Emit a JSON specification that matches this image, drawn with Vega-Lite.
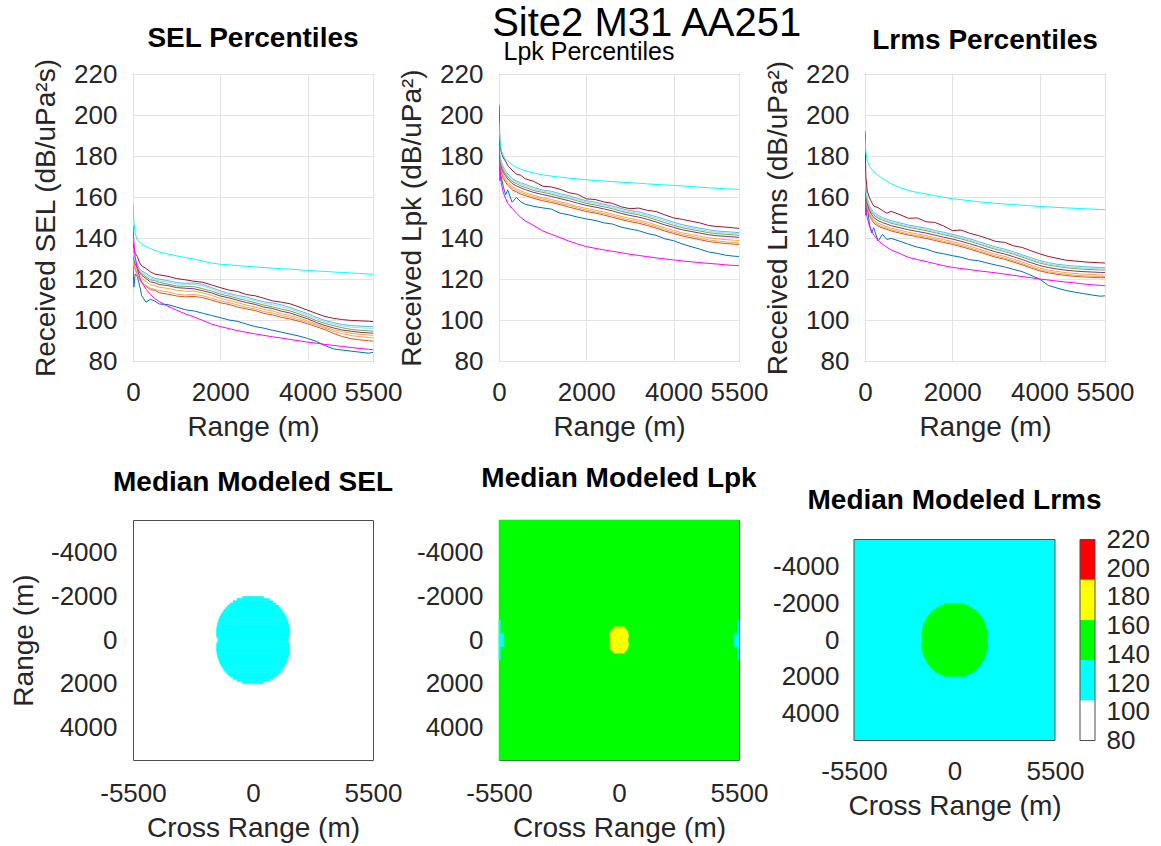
{
"$schema":"https://vega.github.io/schema/vega-lite/v6.json",
"background":"white",
"padding":{"left":10,"top":4,"right":2,"bottom":2},
"config":{
  "font":"Liberation Sans",
  "locale":{"number":{"decimal":".","thousands":",","grouping":[3],"currency":["$",""],"minus":"-"}},
  "view":{"stroke":"#4d4d4d","strokeWidth":1},
  "axis":{"labelFont":"Liberation Sans","labelFontSize":26,"labelColor":"#262626","titleFont":"Liberation Sans","titleFontSize":28,"titleFontWeight":"normal","titleColor":"#262626","ticks":false,"tickSize":0,"domain":false,"gridColor":"#e3e3e3","gridWidth":1,"labelFlush":false,"labelOverlap":false,"format":"d"},
  "axisX":{"labelPadding":18,"titlePadding":8},
  "axisY":{"labelPadding":16,"titlePadding":13},
  "title":{"font":"Liberation Sans","fontSize":28,"fontWeight":"bold","color":"#000000","anchor":"middle","baseline":"alphabetic","frame":"group"}
},
"title":{"text":"Site2 M31 AA251","fontSize":40,"fontWeight":"normal","offset":0,"dx":67,"dy":20,"frame":"bounds"},
"datasets":{
"sel":[
{"x":0,"a":127,"b":131,"c":130,"d":132,"e":133,"f":134,"g":134,"h":133,"i":138,"j":157,"k":146},
{"x":20,"a":116,"b":128,"c":127.5,"d":129,"e":130,"f":131,"g":131.5,"h":131,"i":135,"j":148,"k":138},
{"x":50,"a":122.5,"b":125,"c":124.5,"d":126.5,"e":127.5,"f":128.5,"g":129,"h":128.5,"i":132.5,"j":142,"k":131},
{"x":100,"a":121,"b":122,"c":121.5,"d":124,"e":125.5,"f":126.5,"g":127,"h":126.5,"i":131,"j":139,"k":125},
{"x":150,"a":117,"b":120,"c":119.5,"d":121.5,"e":123,"f":124,"g":125,"h":124.5,"i":128,"j":138,"k":121},
{"x":200,"a":111.8,"b":118.3,"c":118,"d":120.5,"e":121.8,"f":122.6,"g":123.9,"h":123.2,"i":126.4,"j":137,"k":118.5},
{"x":300,"a":108.7,"b":116.5,"c":116.8,"d":118.7,"e":120.2,"f":121,"g":122.7,"h":122,"i":125.1,"j":135.8,"k":115},
{"x":400,"a":110.1,"b":114.8,"c":115.5,"d":117.2,"e":118.6,"f":119.6,"g":121.2,"h":120.5,"i":123.5,"j":134.8,"k":112.5},
{"x":500,"a":109.2,"b":114.5,"c":115,"d":116.8,"e":118.2,"f":119.2,"g":120.4,"h":119.8,"i":122.4,"j":134,"k":110.5},
{"x":600,"a":107.8,"b":113.3,"c":114.4,"d":116,"e":117.3,"f":118.4,"g":119.9,"h":119.1,"i":122,"j":133.2,"k":109},
{"x":800,"a":107.5,"b":112.6,"c":113.7,"d":115.4,"e":116.8,"f":117.5,"g":119.2,"h":118.5,"i":121.3,"j":132.2,"k":106.7},
{"x":1000,"a":106.3,"b":111.7,"c":112.6,"d":114.5,"e":115.8,"f":116.6,"g":118.3,"h":117.6,"i":120.2,"j":131.3,"k":104.8},
{"x":1200,"a":105,"b":111.3,"c":112.2,"d":114,"e":115.5,"f":116.4,"g":117.9,"h":117.2,"i":119.6,"j":130.4,"k":103},
{"x":1400,"a":104.4,"b":111.5,"c":112.5,"d":114.1,"e":115.2,"f":116.2,"g":118.1,"h":117.4,"i":118.9,"j":129.7,"k":101.5},
{"x":1600,"a":103.3,"b":110.9,"c":111.8,"d":113.2,"e":114.3,"f":115.3,"g":117.4,"h":116.6,"i":118.4,"j":128.7,"k":99.8},
{"x":1800,"a":102.2,"b":109.7,"c":110.6,"d":112,"e":113.2,"f":114.1,"g":115.8,"h":115.2,"i":117.1,"j":127.8,"k":98},
{"x":2000,"a":101.2,"b":108.4,"c":109.3,"d":110.5,"e":111.7,"f":112.6,"g":114.2,"h":113.4,"i":115.8,"j":127.2,"k":96.8},
{"x":2200,"a":100,"b":107.6,"c":108.5,"d":109.6,"e":110.8,"f":111.7,"g":113,"h":112.5,"i":114.6,"j":126.9,"k":95.8},
{"x":2400,"a":99.3,"b":106.3,"c":107.3,"d":108.4,"e":109.6,"f":110.5,"g":112,"h":111.3,"i":113.9,"j":126.5,"k":94.8},
{"x":2600,"a":98,"b":105.4,"c":106.2,"d":107.3,"e":108.5,"f":109.5,"g":111.2,"h":110.4,"i":112.4,"j":126.2,"k":94},
{"x":2800,"a":96.8,"b":104.6,"c":105.4,"d":106.3,"e":107.6,"f":108.4,"g":110,"h":109.4,"i":111.8,"j":125.9,"k":93.2},
{"x":3000,"a":96,"b":103.2,"c":104.1,"d":105.2,"e":106.3,"f":107.3,"g":108.9,"h":108.1,"i":110.6,"j":125.6,"k":92.5},
{"x":3200,"a":95,"b":102.5,"c":103.4,"d":104.4,"e":105.6,"f":106.4,"g":108.3,"h":107.5,"i":109.3,"j":125.3,"k":91.8},
{"x":3400,"a":94.1,"b":101.3,"c":102.2,"d":103.1,"e":104.3,"f":105.3,"g":107.4,"h":106.4,"i":108.7,"j":125,"k":91.2},
{"x":3600,"a":93.1,"b":100.5,"c":101.3,"d":102.2,"e":103.4,"f":104.4,"g":106.1,"h":105.3,"i":107.9,"j":124.8,"k":90.5},
{"x":3800,"a":92.2,"b":99.4,"c":100.1,"d":101,"e":102,"f":103,"g":104.6,"h":103.9,"i":106.4,"j":124.5,"k":89.9},
{"x":4000,"a":91,"b":98.2,"c":98.9,"d":99.6,"e":100.6,"f":101.5,"g":103.1,"h":102.3,"i":104.8,"j":124.2,"k":89.2},
{"x":4200,"a":89.6,"b":96.7,"c":97.4,"d":98,"e":98.8,"f":99.7,"g":101.3,"h":100.6,"i":103.2,"j":123.9,"k":88.7},
{"x":4400,"a":87.5,"b":95.3,"c":96,"d":96.5,"e":97.3,"f":98.3,"g":99.8,"h":99.1,"i":101.7,"j":123.7,"k":88.1},
{"x":4600,"a":85.9,"b":93.4,"c":94.4,"d":95.2,"e":96.1,"f":97.2,"g":98.7,"h":98,"i":100.8,"j":123.4,"k":87.6},
{"x":4800,"a":85.3,"b":91.9,"c":93.3,"d":94.3,"e":95.1,"f":96.2,"g":97.8,"h":97.1,"i":100.2,"j":123.2,"k":87.1},
{"x":5000,"a":84.8,"b":90.9,"c":92.4,"d":93.5,"e":94.5,"f":95.4,"g":97.3,"h":96.5,"i":99.8,"j":122.9,"k":86.6},
{"x":5200,"a":84.3,"b":90.3,"c":91.9,"d":93,"e":94,"f":95,"g":97,"h":96.2,"i":99.6,"j":122.7,"k":86.1},
{"x":5400,"a":83.8,"b":89.9,"c":91.5,"d":92.7,"e":93.7,"f":94.7,"g":96.8,"h":96,"i":99.4,"j":122.4,"k":85.7},
{"x":5500,"a":84.2,"b":89.7,"c":91.3,"d":92.5,"e":93.6,"f":94.6,"g":96.7,"h":95.9,"i":99.2,"j":122.3,"k":85.5}
],
"lpk":[
{"x":0,"a":196,"b":179,"c":180,"d":181,"e":182,"f":183,"g":185,"h":184,"i":205,"j":197,"k":186},
{"x":20,"a":168,"b":175,"c":176,"d":177,"e":178,"f":179,"g":180.5,"h":180,"i":186,"j":188,"k":175},
{"x":50,"a":170,"b":172,"c":173,"d":173.8,"e":175,"f":176,"g":177.5,"h":177,"i":182,"j":183,"k":167},
{"x":100,"a":165,"b":169,"c":170,"d":170.6,"e":172,"f":173,"g":174.6,"h":174,"i":179,"j":180,"k":162},
{"x":150,"a":161,"b":167.2,"c":168,"d":168.8,"e":170.3,"f":171.4,"g":172.8,"h":172.2,"i":177.5,"j":178.6,"k":159.3},
{"x":200,"a":163.5,"b":165.8,"c":166.6,"d":167.3,"e":168.8,"f":169.7,"g":171.3,"h":170.6,"i":175.4,"j":177.5,"k":157},
{"x":300,"a":157.4,"b":163.5,"c":164.4,"d":165.1,"e":166.6,"f":167.6,"g":169,"h":168.4,"i":173.1,"j":175.8,"k":154.5},
{"x":400,"a":159.8,"b":162.5,"c":163.2,"d":164,"e":165.4,"f":166.5,"g":167.8,"h":167.3,"i":171.2,"j":174.5,"k":152.1},
{"x":500,"a":157.6,"b":161.4,"c":162.2,"d":163,"e":164.5,"f":165.4,"g":166.9,"h":166.2,"i":170.6,"j":173.6,"k":150},
{"x":600,"a":156.5,"b":160.7,"c":161.4,"d":162.1,"e":163.6,"f":164.7,"g":166.2,"h":165.5,"i":168.9,"j":172.8,"k":148.4},
{"x":800,"a":155.4,"b":159.3,"c":160,"d":160.8,"e":162.2,"f":163.1,"g":164.6,"h":163.9,"i":167.6,"j":171.7,"k":146},
{"x":1000,"a":154.7,"b":158.2,"c":158.9,"d":159.6,"e":161.2,"f":162.3,"g":163.4,"h":162.9,"i":165.3,"j":170.8,"k":143.5},
{"x":1200,"a":154.1,"b":157.3,"c":158,"d":158.8,"e":160.3,"f":161.4,"g":162.8,"h":162.1,"i":164.9,"j":170.2,"k":141.8},
{"x":1400,"a":152.1,"b":156.3,"c":157,"d":157.7,"e":159.2,"f":160.2,"g":161.6,"h":161,"i":163.8,"j":169.7,"k":140.2},
{"x":1600,"a":151.3,"b":155.1,"c":155.9,"d":156.7,"e":158.2,"f":159.3,"g":160.7,"h":160,"i":162.1,"j":169.2,"k":138.5},
{"x":1800,"a":150.2,"b":154,"c":154.7,"d":155.4,"e":157,"f":158.1,"g":159.3,"h":158.8,"i":161.3,"j":168.8,"k":137.1},
{"x":2000,"a":149.3,"b":152.9,"c":153.6,"d":154.4,"e":155.9,"f":156.9,"g":158.2,"h":157.6,"i":159.1,"j":168.4,"k":135.8},
{"x":2200,"a":148.6,"b":152.2,"c":152.8,"d":153.6,"e":155.1,"f":156.1,"g":157.5,"h":156.8,"i":158.8,"j":168.1,"k":135},
{"x":2400,"a":147.4,"b":151.2,"c":151.9,"d":152.7,"e":154.2,"f":155.2,"g":156.5,"h":155.9,"i":157.6,"j":167.8,"k":134.2},
{"x":2600,"a":146.8,"b":150.1,"c":150.9,"d":151.7,"e":153.2,"f":154.3,"g":155.6,"h":154.9,"i":156.9,"j":167.5,"k":133.5},
{"x":2800,"a":145.3,"b":149,"c":149.7,"d":150.5,"e":152,"f":153,"g":154.4,"h":153.7,"i":155.2,"j":167.2,"k":132.8},
{"x":3000,"a":144.4,"b":148,"c":148.7,"d":149.5,"e":151,"f":152.1,"g":153.4,"h":152.7,"i":154.3,"j":167,"k":132.1},
{"x":3200,"a":143.6,"b":147.2,"c":147.9,"d":148.7,"e":150.2,"f":151.3,"g":152.8,"h":152,"i":154.6,"j":166.7,"k":131.5},
{"x":3400,"a":142.2,"b":146.1,"c":146.8,"d":147.6,"e":149.1,"f":150.2,"g":151.6,"h":150.9,"i":153.5,"j":166.4,"k":130.9},
{"x":3600,"a":141.3,"b":144.8,"c":145.5,"d":146.3,"e":147.8,"f":148.9,"g":150.4,"h":149.7,"i":152.9,"j":166.1,"k":130.3},
{"x":3800,"a":139.6,"b":143.4,"c":144.1,"d":144.9,"e":146.4,"f":147.5,"g":149.1,"h":148.3,"i":151.3,"j":165.9,"k":129.8},
{"x":4000,"a":138.7,"b":142.2,"c":142.9,"d":143.7,"e":145.2,"f":146.2,"g":147.7,"h":147,"i":149.8,"j":165.7,"k":129.3},
{"x":4200,"a":137.1,"b":141,"c":141.7,"d":142.5,"e":144,"f":145,"g":146.5,"h":145.8,"i":149.1,"j":165.4,"k":128.8},
{"x":4400,"a":135.8,"b":140.1,"c":140.9,"d":141.7,"e":143.2,"f":144.2,"g":145.6,"h":145,"i":148.2,"j":165.1,"k":128.4},
{"x":4600,"a":134.6,"b":139.2,"c":140,"d":140.9,"e":142.4,"f":143.4,"g":144.8,"h":144.1,"i":147.4,"j":164.8,"k":128},
{"x":4800,"a":133.2,"b":138.3,"c":139.1,"d":140.1,"e":141.6,"f":142.6,"g":144,"h":143.3,"i":146.1,"j":164.5,"k":127.6},
{"x":5000,"a":132.5,"b":137.7,"c":138.5,"d":139.6,"e":141.1,"f":142.1,"g":143.4,"h":142.8,"i":145.6,"j":164.3,"k":127.3},
{"x":5200,"a":131.6,"b":137.3,"c":138.1,"d":139.2,"e":140.8,"f":141.8,"g":143.1,"h":142.5,"i":145.3,"j":164,"k":126.9},
{"x":5400,"a":131.1,"b":137,"c":137.8,"d":138.9,"e":140.5,"f":141.5,"g":142.8,"h":142.2,"i":144.9,"j":163.8,"k":126.6},
{"x":5500,"a":131,"b":136.8,"c":137.6,"d":138.7,"e":140.3,"f":141.3,"g":142.6,"h":142,"i":144.7,"j":163.7,"k":126.5}
],
"lrms":[
{"x":0,"a":162,"b":165,"c":166,"d":167,"e":168,"f":169,"g":170,"h":169.5,"i":192,"j":188,"k":162},
{"x":20,"a":151,"b":160,"c":160.8,"d":161,"e":162,"f":163.2,"g":164.5,"h":164,"i":170,"j":182,"k":155},
{"x":50,"a":156,"b":154.5,"c":155.2,"d":155.8,"e":157,"f":158.2,"g":159.5,"h":159,"i":163,"j":178,"k":150},
{"x":100,"a":147,"b":151,"c":151.6,"d":152.3,"e":153.5,"f":154.7,"g":156,"h":155.4,"i":159.8,"j":175,"k":146},
{"x":150,"a":142.5,"b":149,"c":149.7,"d":150.3,"e":151.5,"f":152.7,"g":154,"h":153.3,"i":157.5,"j":173.6,"k":143.4},
{"x":200,"a":145,"b":147.3,"c":148,"d":148.8,"e":150,"f":151.2,"g":152.5,"h":151.8,"i":155.6,"j":172.5,"k":141.5},
{"x":300,"a":138.5,"b":145.8,"c":146.5,"d":147.3,"e":148.5,"f":149.7,"g":151,"h":150.3,"i":154.8,"j":170.6,"k":139},
{"x":400,"a":141.8,"b":144.9,"c":145.5,"d":146.3,"e":147.5,"f":148.7,"g":150,"h":149.3,"i":153.4,"j":169,"k":137},
{"x":500,"a":139.3,"b":144.2,"c":144.8,"d":145.6,"e":146.8,"f":148,"g":149.2,"h":148.6,"i":152.1,"j":167.7,"k":135.5},
{"x":600,"a":139.8,"b":143.4,"c":144,"d":144.8,"e":146,"f":147.2,"g":148.4,"h":147.7,"i":153,"j":166.5,"k":134.2},
{"x":800,"a":138.4,"b":142.4,"c":143,"d":143.8,"e":145,"f":146.2,"g":147.4,"h":146.7,"i":151.4,"j":164.6,"k":132.4},
{"x":1000,"a":136.9,"b":141.4,"c":142,"d":142.8,"e":144,"f":145.2,"g":146.3,"h":145.7,"i":149.6,"j":163.2,"k":130.5},
{"x":1200,"a":135.5,"b":140.6,"c":141.2,"d":142,"e":143.2,"f":144.4,"g":145.6,"h":144.9,"i":149.8,"j":162.2,"k":129.5},
{"x":1400,"a":134.6,"b":139.8,"c":140.4,"d":141.2,"e":142.4,"f":143.6,"g":144.8,"h":144.1,"i":147.9,"j":161.5,"k":128.5},
{"x":1600,"a":133.1,"b":138.8,"c":139.4,"d":140.2,"e":141.4,"f":142.6,"g":143.7,"h":143.1,"i":147.6,"j":160.6,"k":127.5},
{"x":1800,"a":132.3,"b":137.8,"c":138.4,"d":139.2,"e":140.4,"f":141.6,"g":142.8,"h":142.1,"i":145.9,"j":159.9,"k":126.5},
{"x":2000,"a":131.4,"b":136.9,"c":137.5,"d":138.3,"e":139.5,"f":140.7,"g":141.8,"h":141.2,"i":143.6,"j":159.2,"k":125.7},
{"x":2200,"a":130.6,"b":135.8,"c":136.4,"d":137.2,"e":138.4,"f":139.6,"g":140.8,"h":140.1,"i":143.9,"j":158.7,"k":125.1},
{"x":2400,"a":129.4,"b":134.6,"c":135.2,"d":136,"e":137.2,"f":138.4,"g":139.6,"h":138.9,"i":142.3,"j":158.2,"k":124.6},
{"x":2600,"a":128.9,"b":133.3,"c":133.9,"d":134.7,"e":135.9,"f":137.1,"g":138.3,"h":137.6,"i":141.2,"j":157.7,"k":124},
{"x":2800,"a":127.8,"b":131.9,"c":132.5,"d":133.3,"e":134.5,"f":135.7,"g":136.9,"h":136.2,"i":139.8,"j":157.3,"k":123.5},
{"x":3000,"a":126.8,"b":130.6,"c":131.2,"d":132,"e":133.2,"f":134.4,"g":135.6,"h":134.9,"i":138.3,"j":156.9,"k":123},
{"x":3200,"a":125.9,"b":129.6,"c":130.2,"d":131,"e":132.2,"f":133.4,"g":134.6,"h":133.9,"i":137.9,"j":156.6,"k":122.4},
{"x":3400,"a":124.7,"b":128.3,"c":128.9,"d":129.7,"e":130.9,"f":132.1,"g":133.3,"h":132.6,"i":136.2,"j":156.3,"k":121.8},
{"x":3600,"a":123.6,"b":126.9,"c":127.5,"d":128.3,"e":129.5,"f":130.7,"g":131.8,"h":131.2,"i":135.4,"j":156,"k":121.2},
{"x":3800,"a":121.8,"b":125.4,"c":126,"d":126.8,"e":128,"f":129.2,"g":130.4,"h":129.7,"i":133.8,"j":155.7,"k":120.6},
{"x":4000,"a":120,"b":124,"c":124.6,"d":125.4,"e":126.6,"f":127.8,"g":129,"h":128.3,"i":132.3,"j":155.4,"k":120},
{"x":4200,"a":116.9,"b":123,"c":123.6,"d":124.4,"e":125.6,"f":126.8,"g":128,"h":127.3,"i":131,"j":155.2,"k":119.5},
{"x":4400,"a":115.6,"b":122.3,"c":122.9,"d":123.7,"e":124.9,"f":126.1,"g":127.2,"h":126.6,"i":130.1,"j":154.9,"k":119},
{"x":4600,"a":114.4,"b":121.7,"c":122.3,"d":123.1,"e":124.3,"f":125.5,"g":126.7,"h":126,"i":129.2,"j":154.7,"k":118.5},
{"x":4800,"a":113.6,"b":121.3,"c":121.9,"d":122.7,"e":123.9,"f":125.1,"g":126.3,"h":125.6,"i":128.8,"j":154.5,"k":118.1},
{"x":5000,"a":112.9,"b":121,"c":121.6,"d":122.4,"e":123.6,"f":124.8,"g":126,"h":125.3,"i":128.4,"j":154.3,"k":117.6},
{"x":5200,"a":112.2,"b":120.8,"c":121.4,"d":122.2,"e":123.4,"f":124.6,"g":125.8,"h":125.1,"i":128.1,"j":154.1,"k":117.2},
{"x":5400,"a":111.6,"b":120.6,"c":121.2,"d":122,"e":123.2,"f":124.4,"g":125.6,"h":124.9,"i":127.9,"j":153.9,"k":116.9},
{"x":5500,"a":111.8,"b":120.6,"c":121.2,"d":122,"e":123.2,"f":124.4,"g":125.5,"h":124.9,"i":127.8,"j":153.8,"k":116.7}
],
"selmap":[
{"x":-478,"x2":478,"y":-2000,"y2":-1900,"v":122},
{"x":-734,"x2":734,"y":-1900,"y2":-1800,"v":122},
{"x":-910,"x2":910,"y":-1800,"y2":-1700,"v":122},
{"x":-1048,"x2":1048,"y":-1700,"y2":-1600,"v":122},
{"x":-1161,"x2":1161,"y":-1600,"y2":-1500,"v":122},
{"x":-1257,"x2":1257,"y":-1500,"y2":-1400,"v":122},
{"x":-1337,"x2":1337,"y":-1400,"y2":-1300,"v":122},
{"x":-1407,"x2":1407,"y":-1300,"y2":-1200,"v":122},
{"x":-1466,"x2":1466,"y":-1200,"y2":-1100,"v":122},
{"x":-1516,"x2":1516,"y":-1100,"y2":-1000,"v":122},
{"x":-1558,"x2":1558,"y":-1000,"y2":-900,"v":122},
{"x":-1593,"x2":1593,"y":-900,"y2":-800,"v":122},
{"x":-1621,"x2":1621,"y":-800,"y2":-700,"v":122},
{"x":-1643,"x2":1643,"y":-700,"y2":-600,"v":122},
{"x":-1658,"x2":1658,"y":-600,"y2":-500,"v":122},
{"x":-1667,"x2":1667,"y":-500,"y2":-400,"v":122},
{"x":-1670,"x2":1670,"y":-400,"y2":-300,"v":122},
{"x":-1667,"x2":1667,"y":-300,"y2":-200,"v":122},
{"x":-1658,"x2":1658,"y":-200,"y2":-100,"v":122},
{"x":-1600,"x2":1600,"y":-100,"y2":0,"v":122},
{"x":-1600,"x2":1600,"y":0,"y2":100,"v":122},
{"x":-1658,"x2":1658,"y":100,"y2":200,"v":122},
{"x":-1667,"x2":1667,"y":200,"y2":300,"v":122},
{"x":-1670,"x2":1670,"y":300,"y2":400,"v":122},
{"x":-1667,"x2":1667,"y":400,"y2":500,"v":122},
{"x":-1658,"x2":1658,"y":500,"y2":600,"v":122},
{"x":-1643,"x2":1643,"y":600,"y2":700,"v":122},
{"x":-1621,"x2":1621,"y":700,"y2":800,"v":122},
{"x":-1593,"x2":1593,"y":800,"y2":900,"v":122},
{"x":-1558,"x2":1558,"y":900,"y2":1000,"v":122},
{"x":-1516,"x2":1516,"y":1000,"y2":1100,"v":122},
{"x":-1466,"x2":1466,"y":1100,"y2":1200,"v":122},
{"x":-1407,"x2":1407,"y":1200,"y2":1300,"v":122},
{"x":-1337,"x2":1337,"y":1300,"y2":1400,"v":122},
{"x":-1257,"x2":1257,"y":1400,"y2":1500,"v":122},
{"x":-1161,"x2":1161,"y":1500,"y2":1600,"v":122},
{"x":-1048,"x2":1048,"y":1600,"y2":1700,"v":122},
{"x":-910,"x2":910,"y":1700,"y2":1800,"v":122},
{"x":-734,"x2":734,"y":1800,"y2":1900,"v":122},
{"x":-478,"x2":478,"y":1900,"y2":2000,"v":122}
],
"lpkmap":[
{"x":-5500,"x2":5500,"y":-5500,"y2":5500,"v":150},
{"x":-5500,"x2":-5440,"y":-900,"y2":-300,"v":122},
{"x":-5500,"x2":-5280,"y":-300,"y2":300,"v":122},
{"x":-5500,"x2":-5440,"y":300,"y2":900,"v":122},
{"x":5440,"x2":5500,"y":-900,"y2":-300,"v":122},
{"x":5280,"x2":5500,"y":-300,"y2":300,"v":122},
{"x":5440,"x2":5500,"y":300,"y2":900,"v":122},
{"x":-250,"x2":250,"y":-600,"y2":-500,"v":178},
{"x":-350,"x2":350,"y":-500,"y2":-400,"v":178},
{"x":-403,"x2":403,"y":-400,"y2":-300,"v":178},
{"x":-427,"x2":427,"y":-300,"y2":-200,"v":178},
{"x":-427,"x2":427,"y":-200,"y2":-100,"v":178},
{"x":-403,"x2":403,"y":-100,"y2":0,"v":178},
{"x":-403,"x2":403,"y":0,"y2":100,"v":178},
{"x":-427,"x2":427,"y":100,"y2":200,"v":178},
{"x":-427,"x2":427,"y":200,"y2":300,"v":178},
{"x":-403,"x2":403,"y":300,"y2":400,"v":178},
{"x":-350,"x2":350,"y":400,"y2":500,"v":178},
{"x":-250,"x2":250,"y":500,"y2":600,"v":178}
],
"lrmsmap":[
{"x":-5500,"x2":5500,"y":-5500,"y2":5500,"v":122},
{"x":-592,"x2":592,"y":-2000,"y2":-1860,"v":150},
{"x":-825,"x2":825,"y":-1900,"y2":-1760,"v":150},
{"x":-995,"x2":995,"y":-1800,"y2":-1660,"v":150},
{"x":-1131,"x2":1131,"y":-1700,"y2":-1560,"v":150},
{"x":-1245,"x2":1245,"y":-1600,"y2":-1460,"v":150},
{"x":-1342,"x2":1342,"y":-1500,"y2":-1360,"v":150},
{"x":-1425,"x2":1425,"y":-1400,"y2":-1260,"v":150},
{"x":-1497,"x2":1497,"y":-1300,"y2":-1160,"v":150},
{"x":-1559,"x2":1559,"y":-1200,"y2":-1060,"v":150},
{"x":-1612,"x2":1612,"y":-1100,"y2":-960,"v":150},
{"x":-1658,"x2":1658,"y":-1000,"y2":-860,"v":150},
{"x":-1697,"x2":1697,"y":-900,"y2":-760,"v":150},
{"x":-1729,"x2":1729,"y":-800,"y2":-660,"v":150},
{"x":-1755,"x2":1755,"y":-700,"y2":-560,"v":150},
{"x":-1775,"x2":1775,"y":-600,"y2":-460,"v":150},
{"x":-1789,"x2":1789,"y":-500,"y2":-360,"v":150},
{"x":-1797,"x2":1797,"y":-400,"y2":-260,"v":150},
{"x":-1800,"x2":1800,"y":-300,"y2":-160,"v":150},
{"x":-1797,"x2":1797,"y":-200,"y2":-60,"v":150},
{"x":-1760,"x2":1760,"y":-100,"y2":40,"v":150},
{"x":-1760,"x2":1760,"y":-40,"y2":100,"v":150},
{"x":-1797,"x2":1797,"y":60,"y2":200,"v":150},
{"x":-1800,"x2":1800,"y":160,"y2":300,"v":150},
{"x":-1797,"x2":1797,"y":260,"y2":400,"v":150},
{"x":-1789,"x2":1789,"y":360,"y2":500,"v":150},
{"x":-1775,"x2":1775,"y":460,"y2":600,"v":150},
{"x":-1755,"x2":1755,"y":560,"y2":700,"v":150},
{"x":-1729,"x2":1729,"y":660,"y2":800,"v":150},
{"x":-1697,"x2":1697,"y":760,"y2":900,"v":150},
{"x":-1658,"x2":1658,"y":860,"y2":1000,"v":150},
{"x":-1612,"x2":1612,"y":960,"y2":1100,"v":150},
{"x":-1559,"x2":1559,"y":1060,"y2":1200,"v":150},
{"x":-1497,"x2":1497,"y":1160,"y2":1300,"v":150},
{"x":-1425,"x2":1425,"y":1260,"y2":1400,"v":150},
{"x":-1342,"x2":1342,"y":1360,"y2":1500,"v":150},
{"x":-1245,"x2":1245,"y":1460,"y2":1600,"v":150},
{"x":-1131,"x2":1131,"y":1560,"y2":1700,"v":150},
{"x":-995,"x2":995,"y":1660,"y2":1800,"v":150},
{"x":-825,"x2":825,"y":1760,"y2":1900,"v":150},
{"x":-592,"x2":592,"y":1860,"y2":2000,"v":150}
],
"cbar":[
{"lo":80,"hi":108,"mid":94},
{"lo":108,"hi":136,"mid":122},
{"lo":136,"hi":164,"mid":150},
{"lo":164,"hi":192,"mid":178},
{"lo":192,"hi":220,"mid":206}
]
},
"concat":[
{"width":240,"height":287,"data":{"name":"sel"},
"transform":[{"fold":["a","b","c","d","e","f","g","h","i","j","k"],"as":["s","v"]}],
"title":{"text":"SEL Percentiles","offset":5},
"mark":{"type":"line","strokeWidth":1,"clip":true},
"encoding":{
"x":{"field":"x","type":"quantitative","scale":{"domain":[0,5500],"nice":false},"axis":{"values":[0,2000,4000,5500],"title":"Range (m)","grid":true}},
"y":{"field":"v","type":"quantitative","scale":{"domain":[80,220],"nice":false},"axis":{"values":[80,100,120,140,160,180,200,220],"title":"Received SEL (dB/uPa²s)","grid":true}},
"color":{"field":"s","type":"nominal","legend":null,"scale":{"domain":["a","b","c","d","e","f","g","h","i","j","k"],"range":["#0072BD","#D95319","#EFA07A","#EDB120","#7E2F8E","#77AC30","#4DBEEE","#9FD8F0","#A2142F","#00FFFF","#FF00FF"]}}
}},
{"width":240,"height":287,"data":{"name":"lpk"},
"transform":[{"fold":["a","b","c","d","e","f","g","h","i","j","k"],"as":["s","v"]}],
"title":{"text":"Lpk Percentiles","offset":-4,"fontWeight":"normal","fontSize":25,"dx":-30},
"mark":{"type":"line","strokeWidth":1,"clip":true},
"encoding":{
"x":{"field":"x","type":"quantitative","scale":{"domain":[0,5500],"nice":false},"axis":{"values":[0,2000,4000,5500],"title":"Range (m)","grid":true}},
"y":{"field":"v","type":"quantitative","scale":{"domain":[80,220],"nice":false},"axis":{"values":[80,100,120,140,160,180,200,220],"title":"Received Lpk (dB/uPa²)","grid":true}},
"color":{"field":"s","type":"nominal","legend":null,"scale":{"domain":["a","b","c","d","e","f","g","h","i","j","k"],"range":["#0072BD","#D95319","#EFA07A","#EDB120","#7E2F8E","#77AC30","#4DBEEE","#9FD8F0","#A2142F","#00FFFF","#FF00FF"]}}
}},
{"width":240,"height":287,"data":{"name":"lrms"},
"transform":[{"fold":["a","b","c","d","e","f","g","h","i","j","k"],"as":["s","v"]}],
"title":{"text":"Lrms Percentiles","offset":5},
"mark":{"type":"line","strokeWidth":1,"clip":true},
"encoding":{
"x":{"field":"x","type":"quantitative","scale":{"domain":[0,5500],"nice":false},"axis":{"values":[0,2000,4000,5500],"title":"Range (m)","grid":true}},
"y":{"field":"v","type":"quantitative","scale":{"domain":[80,220],"nice":false},"axis":{"values":[80,100,120,140,160,180,200,220],"title":"Received Lrms (dB/uPa²)","grid":true}},
"color":{"field":"s","type":"nominal","legend":null,"scale":{"domain":["a","b","c","d","e","f","g","h","i","j","k"],"range":["#0072BD","#D95319","#EFA07A","#EDB120","#7E2F8E","#77AC30","#4DBEEE","#9FD8F0","#A2142F","#00FFFF","#FF00FF"]}}
}},
{"width":240,"height":240,"data":{"name":"selmap"},
"title":{"text":"Median Modeled SEL","offset":23},
"mark":{"type":"rect","strokeWidth":0.6},
"encoding":{
"x":{"field":"x","type":"quantitative","scale":{"domain":[-5500,5500],"nice":false},"axis":{"values":[-5500,0,5500],"title":"Cross Range (m)","grid":false,"labelPadding":20}},
"x2":{"field":"x2"},
"y":{"field":"y","type":"quantitative","scale":{"domain":[-5500,5500],"nice":false,"reverse":true},"axis":{"values":[-4000,-2000,0,2000,4000],"title":"Range (m)","grid":false,"titlePadding":12}},
"y2":{"field":"y2"},
"color":{"field":"v","type":"quantitative","legend":null,"scale":{"type":"quantize","domain":[80,220],"nice":false,"range":["#ffffff","#00ffff","#00ff00","#ffff00","#ff0000"]}},
"stroke":{"field":"v","type":"quantitative","legend":null,"scale":{"type":"quantize","domain":[80,220],"nice":false,"range":["#ffffff","#00ffff","#00ff00","#ffff00","#ff0000"]}}
}},
{"width":240,"height":240,"data":{"name":"lpkmap"},
"title":{"text":"Median Modeled Lpk","offset":27},
"mark":{"type":"rect","strokeWidth":0.6},
"encoding":{
"x":{"field":"x","type":"quantitative","scale":{"domain":[-5500,5500],"nice":false},"axis":{"values":[-5500,0,5500],"title":"Cross Range (m)","grid":false,"labelPadding":20}},
"x2":{"field":"x2"},
"y":{"field":"y","type":"quantitative","scale":{"domain":[-5500,5500],"nice":false,"reverse":true},"axis":{"values":[-4000,-2000,0,2000,4000],"title":null,"grid":false}},
"y2":{"field":"y2"},
"color":{"field":"v","type":"quantitative","legend":null,"scale":{"type":"quantize","domain":[80,220],"nice":false,"range":["#ffffff","#00ffff","#00ff00","#ffff00","#ff0000"]}},
"stroke":{"field":"v","type":"quantitative","legend":null,"scale":{"type":"quantize","domain":[80,220],"nice":false,"range":["#ffffff","#00ffff","#00ff00","#ffff00","#ff0000"]}}
}},
{"width":201,"height":240,"view":{"stroke":null},
"title":{"text":"Median Modeled Lrms","offset":5.5,"dx":-11},
"layer":[
{"data":{"name":"lrmsmap"},"mark":{"type":"rect"},
"encoding":{
"x":{"field":"x","type":"quantitative","scale":{"domain":[-5500,5500],"nice":false,"range":[-11,190]},"axis":{"values":[-5500,0,5500],"title":"Cross Range (m)","grid":false,"labelPadding":18,"offset":-19.5,"titleX":89.5}},
"x2":{"field":"x2"},
"y":{"field":"y","type":"quantitative","scale":{"domain":[-5500,5500],"nice":false,"range":[19.5,220.5]},"axis":{"values":[-4000,-2000,0,2000,4000],"title":null,"grid":false,"labelPadding":15,"offset":11}},
"y2":{"field":"y2"},
"color":{"field":"v","type":"quantitative","legend":null,"scale":{"type":"quantize","domain":[80,220],"nice":false,"range":["#ffffff","#00ffff","#00ff00","#ffff00","#ff0000"]}}
}},
{"data":{"name":"lrmsmap"},"transform":[{"filter":"datum.y == -5500"}],
"mark":{"type":"rect","fillOpacity":0,"stroke":"#4d4d4d","strokeWidth":1},
"encoding":{
"x":{"field":"x","type":"quantitative","scale":{"domain":[-5500,5500],"nice":false,"range":[-11,190]},"axis":null},
"x2":{"field":"x2"},
"y":{"field":"y","type":"quantitative","scale":{"domain":[-5500,5500],"nice":false,"range":[19.5,220.5]},"axis":null},
"y2":{"field":"y2"}
}},
{"data":{"name":"cbar"},"mark":{"type":"rect"},
"encoding":{
"x":{"datum":0,"type":"quantitative","scale":{"domain":[0,1],"nice":false,"zero":false,"range":[215,230]},"axis":null},
"x2":{"datum":1},
"y":{"field":"lo","type":"quantitative","scale":{"domain":[80,220],"nice":false,"zero":false,"range":[220.5,19.5]},"axis":{"orient":"right","offset":29,"values":[80,100,120,140,160,180,200,220],"title":null,"grid":false,"labelPadding":11}},
"y2":{"field":"hi"},
"color":{"field":"mid","type":"quantitative","legend":null,"scale":{"type":"quantize","domain":[80,220],"nice":false,"range":["#ffffff","#00ffff","#00ff00","#ffff00","#ff0000"]}}
}},
{"data":{"name":"cbar"},"mark":{"type":"rect","fillOpacity":0,"stroke":"#4d4d4d","strokeWidth":1},
"encoding":{
"x":{"datum":0,"type":"quantitative","scale":{"domain":[0,1],"nice":false,"zero":false,"range":[215,230]},"axis":null},
"x2":{"datum":1},
"y":{"aggregate":"min","field":"lo","type":"quantitative","scale":{"domain":[80,220],"nice":false,"zero":false,"range":[220.5,19.5]},"axis":null},
"y2":{"aggregate":"max","field":"hi"}
}}
],
"resolve":{"scale":{"x":"independent","y":"independent"},"axis":{"x":"independent","y":"independent"}}
}
],
"columns":3,
"spacing":{"row":159,"column":126},
"bounds":"flush",
"resolve":{"scale":{"color":"independent","stroke":"independent"},"legend":{"color":"independent","stroke":"independent"}}
}
